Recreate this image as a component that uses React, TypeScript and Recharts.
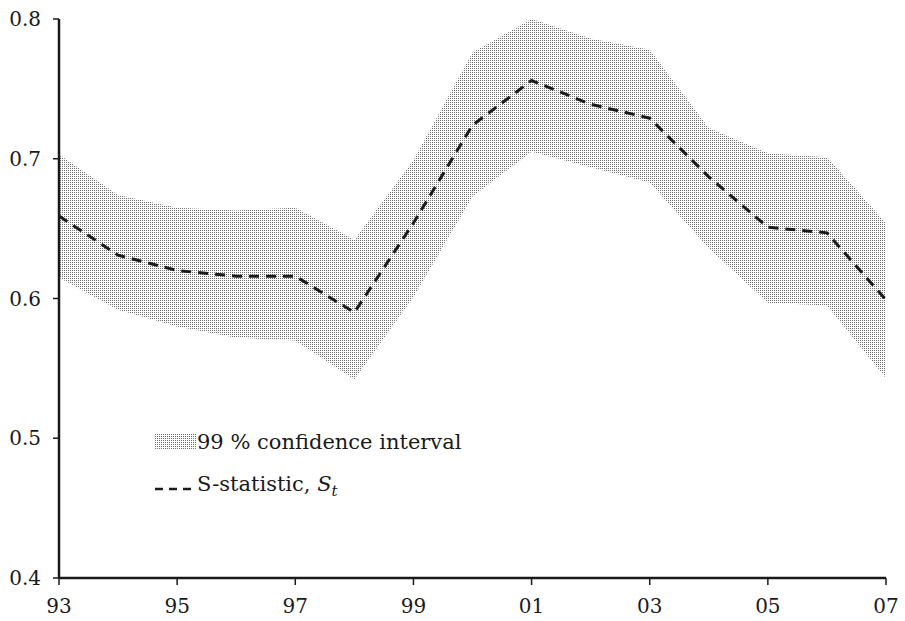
import React from 'react';
import {
    ComposedChart, Area, Line, XAxis, YAxis,
} from 'recharts';

const years = [1993, 1994, 1995, 1996, 1997, 1998, 1999, 2000, 2001, 2002, 2003, 2004, 2005, 2006, 2007];
const sStat = [0.659, 0.631, 0.620, 0.616, 0.616, 0.590, 0.654, 0.724, 0.756, 0.739, 0.729, 0.687, 0.651, 0.647, 0.599];
const upper = [0.703, 0.674, 0.665, 0.663, 0.665, 0.642, 0.699, 0.776, 0.800, 0.786, 0.778, 0.722, 0.704, 0.701, 0.654];
const lower = [0.615, 0.592, 0.580, 0.572, 0.570, 0.542, 0.601, 0.673, 0.705, 0.694, 0.683, 0.636, 0.597, 0.595, 0.543];
const xTicks = [1993, 1995, 1997, 1999, 2001, 2003, 2005, 2007];
const yTicks = [0.4, 0.5, 0.6, 0.7, 0.8];

const data = years.map((y, i) => ({ year: y, s: sStat[i], band: [lower[i], upper[i]] }));

const FONT = '"DejaVu Serif", "Liberation Serif", serif';
const INK = '#1a1a1a';

function DotPattern({ id }: { id: string }) {
    return (
        <pattern id={id} width={2} height={2} patternUnits="userSpaceOnUse">
            <rect x={0} y={0} width={1} height={1} fill="#707070" />
        </pattern>
    );
}

// legend sits inside the plot, lower-left
function LegendBox() {
    return (
        <div style={{
            position: 'absolute', left: 155, top: 421, fontFamily: FONT, fontSize: 21,
            color: INK, lineHeight: '42px', whiteSpace: 'nowrap',
        }}>
            <div style={{ display: 'flex', alignItems: 'center' }}>
                <svg width={42} height={16}>
                    <defs><DotPattern id="legDots" /></defs>
                    <rect width={42} height={16} fill="url(#legDots)" />
                </svg>
                <span>99 % confidence interval</span>
            </div>
            <div style={{ display: 'flex', alignItems: 'center' }}>
                <svg width={42} height={16}>
                    <line x1={0} y1={9} x2={42} y2={9} stroke={INK} strokeWidth={2.5} strokeDasharray="8 6" />
                </svg>
                <span>S-statistic, <i>S</i><sub style={{ fontStyle: 'italic', fontSize: 15 }}>t</sub></span>
            </div>
        </div>
    );
}

export default function App() {
    return (
        <div style={{ position: 'absolute', left: 0, top: 0, width: 905, height: 621 }}>
            <ComposedChart width={905} height={621} data={data} margin={{ top: 19, right: 19, bottom: 0, left: 0 }}>
                <defs><DotPattern id="bandDots" /></defs>
                <XAxis
                    dataKey="year"
                    type="number"
                    domain={[1993, 2007]}
                    ticks={xTicks}
                    height={43}
                    tickFormatter={(v) => String(v).slice(2)}
                    tick={{ fill: INK, fontSize: 20, fontFamily: FONT }}
                    axisLine={{ stroke: INK, strokeWidth: 2.5 }}
                    tickLine={{ stroke: INK, strokeWidth: 1.5 }}
                    tickSize={7}
                    tickMargin={14}
                />
                <YAxis
                    type="number"
                    domain={[0.4, 0.8]}
                    ticks={yTicks}
                    allowDataOverflow
                    width={59}
                    tickFormatter={(v) => Number(v).toFixed(1)}
                    tick={{ fill: INK, fontSize: 20, fontFamily: FONT }}
                    axisLine={{ stroke: INK, strokeWidth: 2.5 }}
                    tickLine={{ stroke: INK, strokeWidth: 1.5 }}
                    tickSize={6}
                    tickMargin={12}
                />
                <Area
                    dataKey="band"
                    type="linear"
                    stroke="none"
                    fill="url(#bandDots)"
                    fillOpacity={1}
                    isAnimationActive={false}
                    activeDot={false}
                />
                <Line
                    dataKey="s"
                    type="linear"
                    stroke={INK}
                    strokeWidth={3}
                    strokeDasharray="10 7"
                    dot={false}
                    activeDot={false}
                    isAnimationActive={false}
                />
            </ComposedChart>
            <LegendBox />
        </div>
    );
}
